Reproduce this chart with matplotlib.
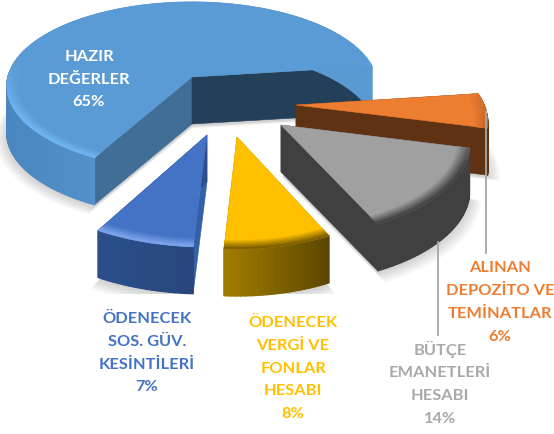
import numpy as np
import matplotlib
matplotlib.use('Agg')
import matplotlib.pyplot as plt
from matplotlib.collections import PolyCollection
from matplotlib.colors import to_rgb

# data, clockwise from the first slice
categories = ['HAZIR\nDEĞERLER', 'ALINAN\nDEPOZİTO VE\nTEMİNATLAR', 'BÜTÇE\nEMANETLERİ\nHESABI',
              'ÖDENECEK\nVERGİ VE\nFONLAR\nHESABI', 'ÖDENECEK\nSOS. GÜV.\nKESİNTİLERİ']
values = [65, 6, 14, 8, 7]

# styles
top_colors = ['#5b9bd5', '#ed7d31', '#a0a0a0', '#ffc000', '#4472c4']
label_colors = ['white', '#ed7d31', '#a9a9a9', '#ffc000', '#4472c4']
rim_colors = ['#6fb5f2', '#a8561f', '#454545', '#7f6000', '#7ba3ea']
wall_left = ['#4a86bf', '#5f3213', '#404040', '#a67f00', '#2c4f8c']
wall_right = ['#5a9ad2', '#5f3213', '#404040', '#5c4700', '#27467c']
start_cut = ['#406e96', '#5f3213', '#404040', '#a67f00', '#3460a8']
end_cut = ['#243f58', '#5f3213', '#404040', '#a67f00', '#2c4f8c']

# layout in pixels
apex = [(192, 77), (296, 105), (281, 125), (237, 137), (207, 135)]
radius_x = [184, 188, 185, 176, 188]
radius_y = [83, 89.8, 89.8, 89.8, 89.8]
persp = [0.11, 0.198, 0.198, 0.198, 0.198]
label_pos = [(89, 79.5), (500, 302.5), (440, 383), (293, 368.5), (147, 353)]
draw_order = [0, 1, 2, 4, 3]
start_angle = 241.4
height = 47


def project(i, a, r, z=0):
    x = r * np.cos(np.radians(a))
    y = r * np.sin(np.radians(a))
    s = 1 / (1 + persp[i] * y)
    return apex[i][0] + radius_x[i] * x * s, apex[i][1] - radius_y[i] * y * s + height * z


def mix(c1, c2, t):
    c1 = np.array(to_rgb(c1))
    c2 = np.array(to_rgb(c2))
    return tuple(c1 + (c2 - c1) * t)


def quad(i, a1, a2, r1, r2, z1=0, z2=0):
    p = [project(i, a1, r1, z1), project(i, a2, r1, z1), project(i, a2, r2, z2), project(i, a1, r2, z2)]
    return p


def add_polys(ax, polys, colors, lw):
    ax.add_collection(PolyCollection(polys, facecolors=colors, edgecolors=colors, linewidths=lw))


def outline(i, a1, a2, r=1.0, z=0):
    ang = np.linspace(a1, a2, 80)
    xs, ys = project(i, ang, r, z)
    ax0, ay0 = project(i, a1, 0, z)
    return np.r_[ax0, xs], np.r_[ay0, ys]


def draw_shadow(ax, i, a1, a2):
    for k in range(6):
        xs, ys = outline(i, a1, a2, 1.0 + 0.012 * k, 1)
        ax.fill(xs, np.minimum(ys + 2 + k * 0.5, 294), color='black', alpha=0.03, lw=0)


def draw_slice(ax, i, a1, a2):
    # cut faces
    for a, col in [(a1, start_cut[i]), (a2, end_cut[i])]:
        p = [project(i, a, 0, 0), project(i, a, 1, 0), project(i, a, 1, 1), project(i, a, 0, 1)]
        ax.fill(*zip(*p), color=col, lw=0.4, ec=col)
    # outer wall, shaded from left to right
    ang = np.linspace(a1, a2, int(abs(a2 - a1) / 1.5) + 2)
    polys = []
    colors = []
    xs = project(i, ang, 1)[0]
    for j in range(len(ang) - 1):
        polys.append(quad(i, ang[j], ang[j + 1], 1, 1, 0, 1))
        t = (xs[j] - xs.min()) / max(xs.max() - xs.min(), 1)
        colors.append(mix(wall_left[i], wall_right[i], min(t * 2.2, 1) if i == 0 else t))
    add_polys(ax, polys, colors, 1.0)
    # top face
    xt, yt = outline(i, a1, a2)
    ax.fill(xt, yt, color=top_colors[i], lw=0.4, ec=top_colors[i])
    # bevel on the rim, only towards the viewer
    polys = []
    colors = []
    rings = np.linspace(0.94, 1.0, 7)
    for j in range(len(ang) - 1):
        mid = np.radians((ang[j] + ang[j + 1]) / 2)
        front = np.clip(0.35 - np.sin(mid) * 1.5, 0, 1)
        for k in range(len(rings) - 1):
            polys.append(quad(i, ang[j], ang[j + 1], rings[k], rings[k + 1]))
            colors.append(mix(top_colors[i], rim_colors[i], front * (k + 1) / (len(rings) - 1)))
    add_polys(ax, polys, colors, 0.6)


fig = plt.figure(figsize=(5.54, 4.34), dpi=100)
ax = fig.add_axes([0, 0, 1, 1])
ax.set_xlim(0, 554)
ax.set_ylim(434, 0)
ax.axis('off')

# pie angles come from the values, going clockwise
edges = start_angle - 360 * np.cumsum([0] + values) / sum(values)
for i in draw_order:
    draw_shadow(ax, i, edges[i], edges[i + 1])
for i in draw_order:
    draw_slice(ax, i, edges[i], edges[i + 1])

# leader lines
ax.plot([486, 486], [111, 253], color='#a6a6a6', lw=1.3)
ax.plot([438, 438], [242, 335], color='#a6a6a6', lw=1.3)

for i in range(len(values)):
    txt = categories[i] + '\n' + str(values[i]) + '%'
    ax.text(label_pos[i][0], label_pos[i][1], txt, color=label_colors[i], ha='center', va='center',
            family='Lato', fontweight='bold', fontsize=11.8, linespacing=1.78)

fig.savefig('out.png', dpi=100)
